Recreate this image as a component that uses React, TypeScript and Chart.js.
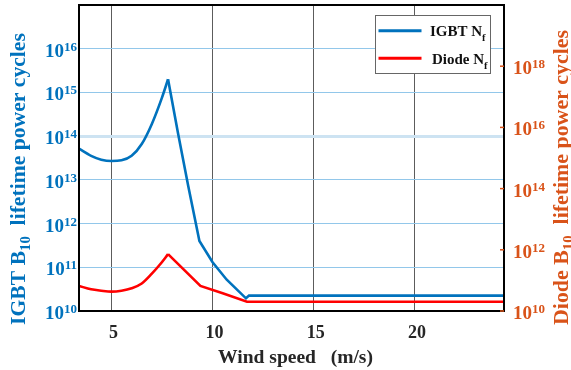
import React, { useEffect, useRef } from "react";
import { Chart, registerables } from "chart.js";

Chart.register(...registerables);

// ---- data ----
const igbtWindSpeed = [3.4, 4.0, 4.5, 5.0, 5.5, 6.0, 6.5, 7.0, 7.5, 7.8, 8.3, 8.8, 9.35, 10.0, 10.7, 11.65, 11.8, 24.4];
const igbtNf = [5.2e13, 3.55e13, 2.9e13, 2.7e13, 2.8e13, 3.55e13, 6.6e13, 1.9e14, 7.6e14, 2.0e15, 1.12e14, 7.1e12, 4.0e11, 1.3e11, 5.2e10, 1.95e10, 2.25e10, 2.25e10];
const diodeWindSpeed = [3.4, 4.0, 4.5, 5.0, 5.5, 6.0, 6.5, 7.0, 7.4, 7.8, 9.4, 10.5, 11.7, 24.4];
const diodeNf = [6.6e10, 5.1e10, 4.6e10, 4.3e10, 4.6e10, 5.5e10, 7.9e10, 1.66e11, 3.3e11, 7.2e11, 6.6e10, 3.8e10, 2.0e10, 2.0e10];

const xTickValues = [5, 10, 15, 20];
const igbtTickExponents = [10, 11, 12, 13, 14, 15, 16];
const diodeTickExponents = [10, 12, 14, 16, 18];
const legendNames = ["IGBT N", "Diode N"];
const legendSub = "f";
const xTitle = "Wind speed   (m/s)";
const igbtTitle = ["IGBT B", "10", "  lifetime power cycles"];
const diodeTitle = ["Diode B", "10", "  lifetime power cycles"];

const SERIF = '"Liberation Serif", "Times New Roman", serif';
const BLUE = "#0072BD";
const ORANGE = "#D95319";
const RED = "#FF0000";

type Part = { text: string; size: number; dy: number };

function setFont(ctx: CanvasRenderingContext2D, size: number) {
  ctx.font = `bold ${size}px ${SERIF}`;
}
function partsWidth(ctx: CanvasRenderingContext2D, parts: Part[]) {
  let w = 0;
  for (const p of parts) {
    setFont(ctx, p.size);
    w += ctx.measureText(p.text).width;
  }
  return w;
}
function drawParts(ctx: CanvasRenderingContext2D, parts: Part[], x: number, y: number) {
  let cx = x;
  ctx.textAlign = "left";
  ctx.textBaseline = "alphabetic";
  for (const p of parts) {
    setFont(ctx, p.size);
    ctx.fillText(p.text, cx, y + p.dy);
    cx += ctx.measureText(p.text).width;
  }
}
function titleParts(ctx: CanvasRenderingContext2D, t: string[], target: number): Part[] {
  const mk = (s: number): Part[] => [
    { text: t[0], size: s, dy: 0 },
    { text: t[1], size: s * 0.68, dy: s * 0.22 },
    { text: t[2], size: s, dy: 0 },
  ];
  const w = partsWidth(ctx, mk(20));
  return mk((20 * target) / w);
}

function splitAtPeak(xs: number[], ys: number[]) {
  let peak = 0;
  ys.forEach((v, i) => {
    if (v > ys[peak]) peak = i;
  });
  const pts = xs.map((x, i) => ({ x, y: ys[i] }));
  return { rise: pts.slice(0, peak + 1), fall: pts.slice(peak) };
}

const decorPlugin = {
  id: "decor",
  afterDatasetsDraw(chart: any) {
    const { ctx, chartArea: a, scales } = chart;
    const sx = scales.x;
    const sy = scales.y;
    const sy1 = scales.y1;
    ctx.save();

    // frame
    ctx.strokeStyle = "#000";
    ctx.lineWidth = 2;
    ctx.strokeRect(a.left, a.top, a.right - a.left, a.bottom - a.top);

    // right-axis tick marks
    ctx.strokeStyle = ORANGE;
    ctx.lineWidth = 1.5;
    for (const e of diodeTickExponents) {
      const y = sy1.getPixelForValue(Math.pow(10, e));
      ctx.beginPath();
      ctx.moveTo(a.right - 4, y);
      ctx.lineTo(a.right, y);
      ctx.stroke();
    }

    // x tick labels
    ctx.fillStyle = "#262626";
    setFont(ctx, 18);
    ctx.textAlign = "center";
    ctx.textBaseline = "alphabetic";
    for (const v of xTickValues) {
      ctx.fillText(String(v), sx.getPixelForValue(v) + 2, 337.5);
    }

    // left tick labels
    ctx.fillStyle = BLUE;
    for (const e of igbtTickExponents) {
      const y = sy.getPixelForValue(Math.pow(10, e));
      const parts: Part[] = [
        { text: "10", size: 19, dy: 8 },
        { text: String(e), size: 13, dy: 2 },
      ];
      const w = partsWidth(ctx, parts);
      drawParts(ctx, parts, 77 - w, y);
    }

    // right tick labels
    ctx.fillStyle = ORANGE;
    for (const e of diodeTickExponents) {
      const y = sy1.getPixelForValue(Math.pow(10, e));
      const parts: Part[] = [
        { text: "10", size: 19, dy: 8 },
        { text: String(e), size: 13, dy: 2 },
      ];
      drawParts(ctx, parts, 513, y);
    }

    // x title
    ctx.fillStyle = "#262626";
    {
      const parts: Part[] = [{ text: xTitle, size: 20, dy: 0 }];
      const w0 = partsWidth(ctx, parts);
      const s = (20 * 155) / w0;
      const p2: Part[] = [{ text: xTitle, size: s, dy: 0 }];
      const w = partsWidth(ctx, p2);
      drawParts(ctx, p2, 295.5 - w / 2, 363);
    }

    // left title
    {
      const parts = titleParts(ctx, igbtTitle, 292);
      const w = partsWidth(ctx, parts);
      ctx.save();
      ctx.translate(25, 179);
      ctx.rotate(-Math.PI / 2);
      ctx.fillStyle = BLUE;
      drawParts(ctx, parts, -w / 2, 0);
      ctx.restore();
    }
    // right title
    {
      const parts = titleParts(ctx, diodeTitle, 295);
      const w = partsWidth(ctx, parts);
      ctx.save();
      ctx.translate(568, 177.5);
      ctx.rotate(-Math.PI / 2);
      ctx.fillStyle = ORANGE;
      drawParts(ctx, parts, -w / 2, 0);
      ctx.restore();
    }

    // legend
    ctx.fillStyle = "#fff";
    ctx.fillRect(376, 15, 115, 58);
    ctx.strokeStyle = "#666";
    ctx.lineWidth = 1;
    ctx.strokeRect(375.5, 15.5, 115, 58);
    const legendColors = [BLUE, RED];
    const lineY = [30.7, 58.3];
    const textX = [430, 432];
    const textY = [35.5, 63.5];
    for (let i = 0; i < legendNames.length; i++) {
      ctx.strokeStyle = legendColors[i];
      ctx.lineWidth = 3;
      ctx.beginPath();
      ctx.moveTo(378.5, lineY[i]);
      ctx.lineTo(421.5, lineY[i]);
      ctx.stroke();
      ctx.fillStyle = "#111";
      drawParts(
        ctx,
        [
          { text: legendNames[i], size: 15, dy: 0 },
          { text: legendSub, size: 10.5, dy: 5 },
        ],
        textX[i],
        textY[i]
      );
    }

    ctx.restore();
  },
};

export default function App() {
  const ref = useRef<HTMLCanvasElement | null>(null);

  useEffect(() => {
    if (!ref.current) return;
    const igbt = splitAtPeak(igbtWindSpeed, igbtNf);
    const diode = splitAtPeak(diodeWindSpeed, diodeNf);
    const common = { pointRadius: 0, borderWidth: 2.6, fill: false };
    const chart = new Chart(ref.current, {
      type: "line",
      data: {
        datasets: [
          { ...common, data: igbt.rise, borderColor: BLUE, yAxisID: "y", cubicInterpolationMode: "monotone", tension: 0.4 },
          { ...common, data: igbt.fall, borderColor: BLUE, yAxisID: "y", tension: 0 },
          { ...common, data: diode.rise, borderColor: RED, yAxisID: "y1", cubicInterpolationMode: "monotone", tension: 0.4 },
          { ...common, data: diode.fall, borderColor: RED, yAxisID: "y1", tension: 0 },
        ] as any,
      },
      options: {
        animation: false,
        responsive: false,
        devicePixelRatio: 1,
        layout: { padding: { top: 5, left: 0, right: 0, bottom: 0 } },
        plugins: { legend: { display: false }, tooltip: { enabled: false } },
        scales: {
          x: {
            type: "linear",
            min: 3.4,
            max: 24.4,
            border: { display: false },
            ticks: { display: false },
            grid: { color: "#5c5c5c", lineWidth: 1, drawTicks: false },
            afterBuildTicks: (s: any) => {
              s.ticks = xTickValues.map((v) => ({ value: v }));
            },
            afterFit: (s: any) => {
              s.height = 59;
            },
          },
          y: {
            type: "logarithmic",
            position: "left",
            min: 1e10,
            max: 1e17,
            border: { display: false },
            ticks: { display: false },
            grid: {
              drawTicks: false,
              color: (c: any) => (c.tick && c.tick.value === 1e14 ? "#cde3f2" : "#92c7ea"),
              lineWidth: (c: any) => (c.tick && c.tick.value === 1e14 ? 3 : 1),
            },
            afterBuildTicks: (s: any) => {
              s.ticks = igbtTickExponents.map((e) => ({ value: Math.pow(10, e) }));
            },
            afterFit: (s: any) => {
              s.width = 79;
            },
          },
          y1: {
            type: "logarithmic",
            position: "right",
            min: 1e10,
            max: 1e20,
            border: { display: false },
            ticks: { display: false },
            grid: { display: false, drawTicks: false },
            afterBuildTicks: (s: any) => {
              s.ticks = diodeTickExponents.map((e) => ({ value: Math.pow(10, e) }));
            },
            afterFit: (s: any) => {
              s.width = 67;
            },
          },
        },
      } as any,
      plugins: [decorPlugin],
    });
    return () => chart.destroy();
  }, []);

  return (
    <div style={{ position: "absolute", left: 0, top: 0, width: 571, height: 370, background: "#fff" }}>
      <canvas ref={ref} width={571} height={370} style={{ display: "block" }} />
    </div>
  );
}
